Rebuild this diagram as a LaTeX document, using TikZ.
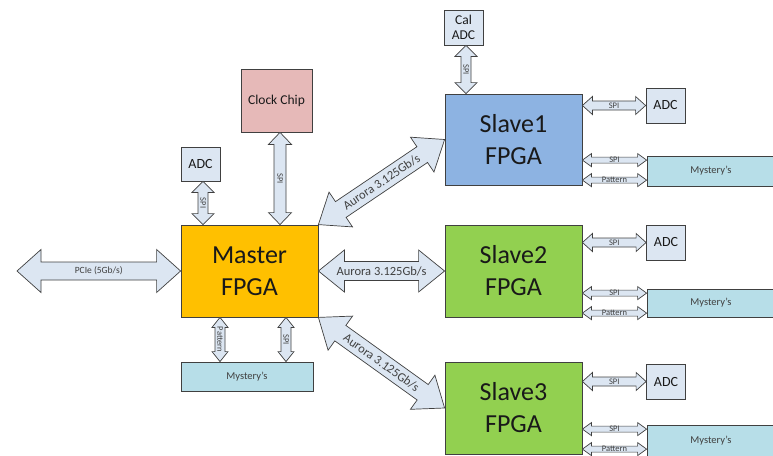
\documentclass[tikz,border=0pt]{standalone}
\usepackage{fontspec}
\setmainfont{Carlito}
\usetikzlibrary{calc}

\definecolor{edge}{HTML}{404040}
\definecolor{busfill}{HTML}{DCE6F2}
\definecolor{masterfill}{HTML}{FFC000}
\definecolor{slaveblue}{HTML}{8DB3E2}
\definecolor{slavegreen}{HTML}{92D050}
\definecolor{clockfill}{HTML}{E6B9B8}
\definecolor{mystfill}{HTML}{B7DEE8}

\tikzset{
  box/.style={draw=edge, line width=0.8pt, inner sep=0pt, align=center, text=black!90},
  fpga/.style={box, minimum width=137pt, minimum height=92pt,
    font=\fontsize{26}{32}\selectfont},
  adcbox/.style={box, fill=busfill, minimum width=39pt, minimum height=35pt,
    font=\fontsize{14}{16}\selectfont},
  mystbox/.style={box, fill=mystfill, font=\fontsize{10.5}{12}\selectfont, text=edge},
  bus/.style={draw=edge, fill=busfill, line width=0.7pt, line join=miter},
  buslabel/.style={text=edge, inner sep=0pt},
  lbsmall/.style={font=\fontsize{8.5}{9}\selectfont},
  lbpcie/.style={font=\fontsize{9.5}{10}\selectfont},
  lbaurora/.style={font=\fontsize{12.5}{14}\selectfont},
}

% double-headed block arrow between two points:
% [label style]{from}{to}{shaft half width}{head half width}{head length}{label}
\newcommand\biarrow[7][]{%
  \draw[bus] let \p1=(#2), \p2=(#3), \n1={atan2(\y2-\y1,\x2-\x1)} in
    (\p1) -- ($(\p1)+(\n1:#6)+({\n1+90}:#5)$) -- ($(\p1)+(\n1:#6)+({\n1+90}:#4)$)
    -- ($(\p2)+({\n1+180}:#6)+({\n1+90}:#4)$) -- ($(\p2)+({\n1+180}:#6)+({\n1+90}:#5)$)
    -- (\p2) -- ($(\p2)+({\n1+180}:#6)+({\n1-90}:#5)$) -- ($(\p2)+({\n1+180}:#6)+({\n1-90}:#4)$)
    -- ($(\p1)+(\n1:#6)+({\n1-90}:#4)$) -- ($(\p1)+(\n1:#6)+({\n1-90}:#5)$) -- cycle
    ($(\p1)!0.5!(\p2)$) node[buslabel, rotate=\n1, #1] {#7};%
}

\begin{document}
\begin{tikzpicture}[x=1pt, y=-1pt]
\useasboundingbox (0,0) rectangle (773,455);
\clip (0,0) rectangle (773,455);

% master side
\node[fpga, fill=masterfill] (master) at (249.5,271) {Master\\FPGA};
\node[box, fill=clockfill, minimum width=71pt, minimum height=63pt,
      font=\fontsize{13.5}{16}\selectfont] (clock) at (276.5,100.5) {Clock Chip};
\node[adcbox, minimum height=34pt] (adc0) at (200.5,164) {ADC};
\node[mystbox, minimum width=132pt, minimum height=29pt] (myst0) at (247,376.5) {Mystery's};

% slave FPGAs
\node[fpga, fill=slaveblue, minimum height=91pt] (slave1) at (513.5,139.5) {Slave1\\FPGA};
\node[fpga, fill=slavegreen] (slave2) at (513.5,271) {Slave2\\FPGA};
\node[fpga, fill=slavegreen] (slave3) at (513.5,408) {Slave3\\FPGA};

% peripherals of the slaves
\node[adcbox, font=\fontsize{13.5}{15}\selectfont] (caladc) at (463.5,27.5) {Cal\\ADC};
\node[adcbox] (adc1) at (665.5,105.5) {ADC};
\node[adcbox] (adc2) at (666,242.5) {ADC};
\node[adcbox] (adc3) at (666,381.5) {ADC};
\node[mystbox, minimum width=128pt, minimum height=30pt] (myst1) at (711,171) {Mystery's};
\node[mystbox, minimum width=128pt, minimum height=28pt] (myst2) at (711,303) {Mystery's};
\node[mystbox, minimum width=128pt, minimum height=32pt] (myst3) at (711,441) {Mystery's};

% attachment points
\coordinate (pcie) at (17,271);
\coordinate (ck) at ([xshift=3.5pt]clock.south);
\coordinate (a0) at ([xshift=2.5pt]adc0.south);
\coordinate (mp) at ([xshift=-29.5pt]master.south);
\coordinate (ms) at ([xshift=36.5pt]master.south);
\coordinate (ca) at ([xshift=2.5pt]caladc.south);
\foreach \i in {1,2,3}{
  \coordinate (m\i s) at ([yshift=-4.5pt]myst\i.north west);
  \coordinate (m\i p) at ([yshift=-24.5pt]myst\i.north west);
}

% master links
\biarrow[lbpcie]{pcie}{master.west}{9pt}{21.5pt}{24pt}{PCIe (5Gb/s)}
\biarrow[lbsmall]{ck}{ck |- master.north}{6pt}{11.5pt}{12pt}{SPI}
\biarrow[lbsmall]{a0}{a0 |- master.north}{5pt}{11pt}{11pt}{SPI}
\biarrow[lbsmall]{mp}{mp |- myst0.north}{5pt}{8pt}{10pt}{Pattern}
\biarrow[lbsmall]{ms}{ms |- myst0.north}{5pt}{8pt}{10pt}{SPI}

% Aurora links
\biarrow[lbaurora]{master.north east}{slave1.west}{9.5pt}{21pt}{27pt}{Aurora 3.125Gb/s}
\biarrow[lbaurora]{master.east}{slave2.west}{9.5pt}{21pt}{26pt}{Aurora 3.125Gb/s}
\biarrow[lbaurora]{master.south east}{slave3.west}{9.5pt}{21pt}{27pt}{Aurora 3.125Gb/s}

% slave links
\biarrow[lbsmall]{ca}{ca |- slave1.north}{5pt}{11pt}{11pt}{SPI}
\biarrow[lbsmall]{slave1.east |- adc1.west}{adc1.west}{4.5pt}{9pt}{10pt}{SPI}
\biarrow[lbsmall]{slave2.east |- adc2.west}{adc2.west}{4.5pt}{9pt}{10pt}{SPI}
\biarrow[lbsmall]{slave3.east |- adc3.west}{adc3.west}{4.5pt}{9pt}{10pt}{SPI}
\biarrow[lbsmall]{slave1.east |- m1s}{m1s}{3pt}{6.5pt}{9pt}{SPI}
\biarrow[lbsmall]{slave1.east |- m1p}{m1p}{3pt}{6.5pt}{9pt}{Pattern}
\biarrow[lbsmall]{slave2.east |- m2s}{m2s}{3pt}{6.5pt}{9pt}{SPI}
\biarrow[lbsmall]{slave2.east |- m2p}{m2p}{3pt}{6.5pt}{9pt}{Pattern}
\biarrow[lbsmall]{slave3.east |- m3s}{m3s}{3pt}{6.5pt}{9pt}{SPI}
\biarrow[lbsmall]{slave3.east |- m3p}{m3p}{3pt}{6.5pt}{9pt}{Pattern}
\end{tikzpicture}
\end{document}
